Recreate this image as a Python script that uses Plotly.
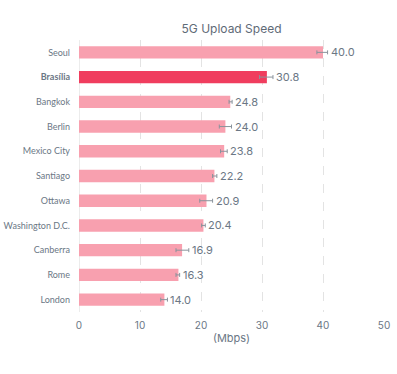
import plotly.graph_objects as go

cities = ["Seoul", "Brasília", "Bangkok", "Berlin", "Mexico City", "Santiago",
          "Ottawa", "Washington D.C.", "Canberra", "Rome", "London"]
speeds = [40.0, 30.8, 24.8, 24.0, 23.8, 22.2, 20.9, 20.4, 16.9, 16.3, 14.0]
err_plus = [0.75, 1.0, 0.3, 1.0, 0.5, 0.4, 1.0, 0.3, 1.1, 0.2, 0.5]
err_minus = [1.0, 1.2, 0.2, 1.0, 0.6, 0.3, 1.1, 0.3, 1.0, 0.4, 0.6]
highlight = "Brasília"
x_ticks = [0, 10, 20, 30, 40, 50]

LIGHT = "#F8A0AF"
DARK = "#F03D5E"
TEXT = "#6B7785"

colors = [DARK if c == highlight else LIGHT for c in cities]
ticktext = [f"<b>{c}</b>" if c == highlight else c for c in cities]

fig = go.Figure()
fig.add_trace(go.Bar(
    y=cities, x=speeds, orientation="h",
    marker=dict(color=colors, line=dict(width=0)),
    error_x=dict(type="data", symmetric=False, array=err_plus, arrayminus=err_minus,
                 color="#8A939C", thickness=1, width=2),
    hoverinfo="skip",
))

annotations = []
for c, v, e in zip(cities, speeds, err_plus):
    annotations.append(dict(
        x=v + e, y=c, xref="x", yref="y", text=f"{v:.1f}",
        showarrow=False, xanchor="left", yanchor="middle", xshift=1,
        font=dict(family="Inter, Open Sans, sans-serif", size=11, color=TEXT),
    ))

fig.update_layout(
    width=397, height=374,
    margin=dict(l=79, r=13, t=40, b=62, autoexpand=False),
    paper_bgcolor="white", plot_bgcolor="white",
    bargap=0.5,
    showlegend=False,
    title=dict(text="5G Upload Speed", x=0.5, xref="paper", xanchor="center",
               y=1 - 29 / 374, yref="container", yanchor="middle",
               font=dict(family="Inter, Open Sans, sans-serif", size=12, color="#5F6B77")),
    annotations=annotations,
    xaxis=dict(
        range=[0, 50], tickvals=x_ticks, ticktext=[str(t) for t in x_ticks],
        showgrid=True, gridcolor="#E3E3E3", griddash="dash", gridwidth=1,
        zeroline=False, showline=False, ticks="", automargin=False,
        ticklabelstandoff=6,
        tickfont=dict(family="Inter, Open Sans, sans-serif", size=10, color=TEXT),
        title=dict(text="(Mbps)", standoff=4,
                   font=dict(family="Inter, Open Sans, sans-serif", size=11, color=TEXT)),
        fixedrange=True,
    ),
    yaxis=dict(
        autorange="reversed", tickvals=cities, ticktext=ticktext,
        showgrid=False, zeroline=False, ticks="", showline=False, automargin=False,
        ticklabelstandoff=8,
        tickfont=dict(family="Lato, sans-serif", size=9, color=TEXT),
        fixedrange=True,
    ),
    shapes=[dict(type="line", xref="x", yref="paper", x0=0, x1=0, y0=0, y1=1,
                 line=dict(color="#E6E6E6", width=1.5), layer="below")],
)

fig.write_html("out.html", config={"displayModeBar": False},
               post_script="document.body.style.margin='0';document.body.style.overflow='hidden';")
